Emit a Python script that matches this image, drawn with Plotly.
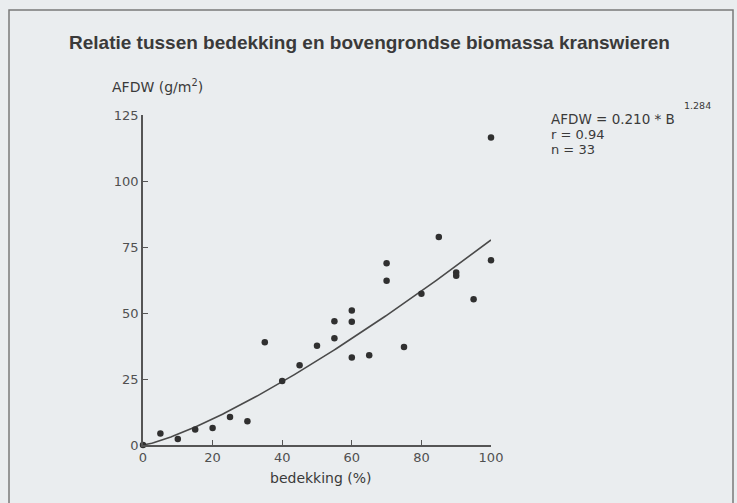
import numpy as np
import plotly.graph_objects as go

# data
bedekking = [0, 5, 10, 15, 20, 25, 30, 35, 40, 45, 50, 55, 55, 60, 60, 60, 65,
             70, 70, 75, 80, 85, 90, 90, 95, 100, 100]
afdw = [0, 4.4, 2.3, 5.9, 6.4, 10.6, 9.0, 38.9, 24.2, 30.2, 37.6, 40.4, 46.9,
        50.9, 46.7, 33.1, 34.0, 68.8, 62.2, 37.1, 57.3, 78.8, 65.3, 64.1, 55.2,
        70.0, 116.5]
fit_a = 0.210
fit_b = 1.284
x_ticks = [0, 20, 40, 60, 80, 100]
y_ticks = [0, 25, 50, 75, 100, 125]

W, H = 737, 503
L, R, T, B = 143, 491, 115, 445

def px(x):
    return (x - L) / (R - L)

def py(y):
    return (B - y) / (B - T)

xf = np.linspace(0, 100, 201)
yf = fit_a * xf ** fit_b

bg = "#eaedef"
ink = "#3a3a3a"
tfont = "Liberation Sans"
font = "DejaVu Sans"

fig = go.Figure()
fig.add_trace(go.Scatter(x=xf, y=yf, mode="lines",
                         line=dict(color="#4a4a4a", width=1.6),
                         hoverinfo="skip", cliponaxis=False))
fig.add_trace(go.Scatter(x=bedekking, y=afdw, mode="markers",
                         marker=dict(color="#303030", size=6.5),
                         cliponaxis=False))

axis_common = dict(showgrid=False, zeroline=False, showline=True,
                   linecolor="#555555", linewidth=1.6, ticks="inside",
                   ticklen=5, tickwidth=1.2, tickcolor="#555555",
                   tickfont=dict(family=font, size=13, color="#505050"))
fig.update_xaxes(range=[0, 100], tickvals=x_ticks, **axis_common)
fig.update_yaxes(range=[0, 125], tickvals=y_ticks, **axis_common)

ann = []
ann.append(dict(x=px(67), y=py(43), xref="paper", yref="paper",
                text="<b>Relatie tussen bedekking en bovengrondse biomassa kranswieren</b>",
                showarrow=False, xanchor="left", yanchor="middle",
                font=dict(family=tfont, size=19, color=ink)))
ann.append(dict(x=px(110), y=py(86), xref="paper", yref="paper",
                text="AFDW (g/m<sup>2</sup>)", showarrow=False,
                xanchor="left", yanchor="middle",
                font=dict(family=font, size=14, color=ink)))
ann.append(dict(x=px(321), y=py(478), xref="paper", yref="paper",
                text="bedekking (%)", showarrow=False,
                xanchor="center", yanchor="middle",
                font=dict(family=font, size=14, color=ink)))
ann.append(dict(x=px(549), y=py(119), xref="paper", yref="paper",
                text="AFDW = 0.210 * B", showarrow=False,
                xanchor="left", yanchor="middle",
                font=dict(family=font, size=13.5, color=ink)))
ann.append(dict(x=px(682), y=py(106), xref="paper", yref="paper",
                text="1.284", showarrow=False,
                xanchor="left", yanchor="middle",
                font=dict(family=font, size=9.5, color=ink)))
ann.append(dict(x=px(549), y=py(134), xref="paper", yref="paper",
                text="r = 0.94", showarrow=False,
                xanchor="left", yanchor="middle",
                font=dict(family=font, size=13, color=ink)))
ann.append(dict(x=px(549), y=py(149), xref="paper", yref="paper",
                text="n = 33", showarrow=False,
                xanchor="left", yanchor="middle",
                font=dict(family=font, size=13, color=ink)))

shapes = [dict(type="rect", xref="paper", yref="paper",
               x0=px(9), x1=px(733), y0=py(520), y1=py(10),
               line=dict(color="#7a7a7a", width=1.5), layer="below")]

fig.update_layout(width=W, height=H, margin=dict(l=L, r=W - R, t=T, b=H - B),
                  paper_bgcolor=bg, plot_bgcolor=bg, showlegend=False,
                  annotations=ann, shapes=shapes)
fig.write_html("out.html")
